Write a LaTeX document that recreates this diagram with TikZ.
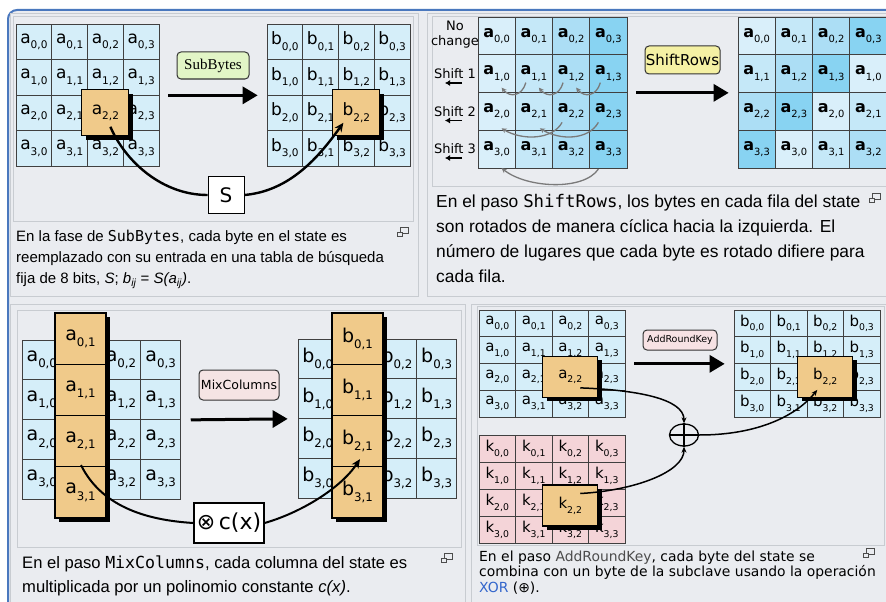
\documentclass[tikz,border=0pt]{standalone}
\usepackage{fontspec}
\setmainfont{Liberation Sans}
\setmonofont{DejaVu Sans Mono}
\newfontfamily\dejavu{DejaVu Sans}
\newfontfamily\timesl{Liberation Serif}
\usetikzlibrary{arrows.meta,calc,shapes.geometric}

\definecolor{framebg}{HTML}{EAECF0}
\definecolor{framebl}{HTML}{4A78BE}
\definecolor{panelln}{HTML}{C8CCD1}
\definecolor{cellblue}{HTML}{D5EEF9}
\definecolor{cellpink}{HTML}{F4D4D8}
\definecolor{hlorange}{HTML}{F0CA8A}
\definecolor{sbgreen}{HTML}{E2F5C6}
\definecolor{sryellow}{HTML}{F5F1A4}
\definecolor{mcpink}{HTML}{F5E4E4}
\definecolor{arkpink}{HTML}{F7E2E4}
\definecolor{shade0}{HTML}{D9EFFA}
\definecolor{shade1}{HTML}{C5E8F8}
\definecolor{shade2}{HTML}{ACDEF5}
\definecolor{shade3}{HTML}{88D3F2}
\definecolor{linkblue}{HTML}{3366CC}
\definecolor{curvegray}{HTML}{7A7A7A}

\makeatletter
\newcommand{\byte}[2]{#1\raisebox{-.32em}{\fontsize{\dimexpr\f@size pt*62/100\relax}{0pt}\selectfont #2}}
\makeatother

% small "enlarge" icon next to each caption
\newcommand{\magicon}[2]{%
  \draw[iconline] (#1+3,#2) rectangle (#1+11,#2+6);
  \draw[iconline, fill=framebg] (#1,#2+5) rectangle (#1+5,#2+9);}

\begin{document}
\begin{tikzpicture}[x=1pt,y=-1pt,
  cell/.style={draw=black!75, line width=0.7pt, inner sep=0pt},
  hl/.style={draw=black, line width=1.2pt, inner sep=0pt, fill=hlorange,
    preaction={fill=black, transform canvas={xshift=4pt, yshift=-4pt}}},
  tag/.style={draw=black!80, line width=1pt, rounded corners=4pt, inner sep=0pt},
  bigarrow/.style={line width=3pt, -{Triangle[length=15pt,width=17pt]}},
  link/.style={line width=2.4pt, -{Stealth[length=9pt,width=8pt]}},
  thinlink/.style={line width=1.5pt, -{Stealth[length=6pt,width=5pt]}},
  shiftarc/.style={curvegray, line width=1.3pt, -{Stealth[length=5pt,width=5pt]}},
  caption/.style={anchor=base west, inner sep=0pt, align=left},
  panel/.style={draw=panelln, fill=framebg, line width=0.8pt},
  iconline/.style={draw=black!70, line width=0.8pt},
]
\useasboundingbox (0,0) rectangle (886,602);
\fill[white] (0,0) rectangle (886,602);
\draw[framebl, line width=2pt, fill=framebg, rounded corners=9pt]
  (8,640) -- (8,10) -- (930,10) -- (930,640) -- cycle;

% panels
\draw[panel] (10,13) rectangle (418,296);
\draw[panel] (13,16) rectangle (413,221);
\draw[panel] (427,13) rectangle (900,296);
\draw[panel] (432,16) rectangle (900,186);
\draw[panel] (10,304) rectangle (465,620);
\draw[panel] (17,310) rectangle (461,547);
\draw[panel] (471,304) rectangle (900,620);
\draw[panel] (477,306) rectangle (884,545);

%% SubBytes
\foreach \r in {0,...,3}
  \foreach \c in {0,...,3} {
    \node[cell, fill=cellblue, minimum width=35.75pt, minimum height=35.5pt,
      font=\dejavu\fontsize{17}{17}\selectfont]
      (sa-\r-\c) at ({16+(\c+.5)*35.75},{24+(\r+.5)*35.5}) {\byte{a}{\r,\c}};
    \node[cell, fill=cellblue, minimum width=35.75pt, minimum height=35.5pt,
      font=\dejavu\fontsize{17}{17}\selectfont]
      (sb-\r-\c) at ({267+(\c+.5)*35.75},{24+(\r+.5)*35.5}) {\byte{b}{\r,\c}};
  }
\node[hl, minimum width=47pt, minimum height=46pt, font=\dejavu\fontsize{17}{17}\selectfont]
  (sa-hl) at (sa-2-2) {\byte{a}{2,2}};
\node[hl, minimum width=47pt, minimum height=46pt, font=\dejavu\fontsize{17}{17}\selectfont]
  (sb-hl) at (sb-2-2) {\byte{b}{2,2}};
\node[tag, fill=sbgreen, minimum width=72pt, minimum height=27pt,
  font=\timesl\fontsize{15}{15}\selectfont] (sb-tag) at (213,65.5) {SubBytes};
\draw[bigarrow] ($(sa-1-3.south east)+(9,0)$) -- ($(sb-1-0.south west)+(-9,0)$);
\node[draw=black, fill=white, line width=0.9pt, minimum width=36pt, minimum height=37pt,
  inner sep=0pt, font=\dejavu\fontsize{20}{20}\selectfont] (sbox) at (226,195) {S};
\draw[line width=2.4pt] ($(sa-hl.center)+(5,14)$) .. controls +(15,35) and +(-45,0) .. (sbox.west);
\draw[link] (sbox.east) .. controls +(45,-4) and +(-25,35) .. ($(sb-hl.center)+(-13,10)$);
\node[caption, font=\fontsize{15}{21}\selectfont] (cap-sb) at (16,283.5)
  {En la fase de \texttt{SubBytes}, cada byte en el state es\\
   reemplazado con su entrada en una tabla de búsqueda\\
   fija de 8 bits, \textit{S}; \textit{b\textsubscript{ij}} = \textit{S(a\textsubscript{ij})}.};
\magicon{397}{227}

%% ShiftRows
\foreach \r in {0,...,3}
  \foreach \c in {0,...,3} {
    \pgfmathtruncatemacro\s{mod(\r+\c,4)}
    \node[cell, fill=shade\c, minimum width=37.25pt, minimum height=37.75pt,
      font=\dejavu\fontsize{16}{16}\selectfont]
      (tra-\r-\c) at ({478+(\c+.5)*37.25},{17+(\r+.5)*37.75}) {\byte{\textbf{a}}{\r,\c}};
    \node[cell, fill=shade\s, minimum width=37.25pt, minimum height=37.75pt,
      font=\dejavu\fontsize{16}{16}\selectfont]
      (trb-\r-\c) at ({738+(\c+.5)*37.25},{17+(\r+.5)*37.75}) {\byte{\textbf{a}}{\r,\s}};
  }
\node[font=\dejavu\fontsize{13}{15}\selectfont, align=center, inner sep=0pt] (nochg) at (455,35) {No\\change};
\foreach \r/\y in {1/74,2/111.5,3/149} {
  \node[font=\dejavu\fontsize{13}{13}\selectfont, inner sep=0pt] (sh\r) at (455,\y) {Shift \r};
  \draw[line width=1.5pt, -{Latex[length=5pt,width=6pt]}] ($(sh\r.center)+(7,9)$) -- ($(sh\r.center)+(-10,9)$);
}
\foreach \c [evaluate=\c as \p using int(\c-1)] in {1,2,3}
  \draw[shiftarc] ($(tra-1-\c.center)+(-8,9)$) .. controls +(-4,14) and +(8,10) .. ($(tra-1-\p.center)+(5,14)$);
\draw[shiftarc] ($(tra-2-2.center)+(-9,11)$) .. controls +(-10,18) and +(20,12) .. ($(tra-2-0.center)+(5,17)$);
\draw[shiftarc] ($(tra-2-3.center)+(-10,11)$) .. controls +(-10,18) and +(20,12) .. ($(tra-2-1.center)+(6,17)$);
\draw[shiftarc] ($(tra-3-3.center)+(-10,20)$) .. controls +(-15,22) and +(25,20) .. ($(tra-3-0.center)+(5,19)$);
\node[tag, fill=sryellow, minimum width=75pt, minimum height=28pt,
  font=\dejavu\fontsize{15}{15}\selectfont] (sr-tag) at (682.5,60) {ShiftRows};
\draw[bigarrow] ($(tra-1-3.south east)+(9,0)$) -- ($(trb-1-0.south west)+(-9,0)$);
\node[caption, font=\fontsize{17.4}{24.7}\selectfont] (cap-sr) at (436,282)
  {En el paso \texttt{ShiftRows}, los bytes en cada fila del state\\
   son rotados de manera cíclica hacia la izquierda. El\\
   número de lugares que cada byte es rotado difiere para\\
   cada fila.};
\magicon{869}{193}

%% MixColumns
\foreach \r in {0,...,3}
  \foreach \c in {0,...,3} {
    \node[cell, fill=cellblue, minimum width=39.6pt, minimum height=39.75pt,
      font=\dejavu\fontsize{19}{19}\selectfont]
      (ma-\r-\c) at ({22+(\c+.5)*39.6},{340+(\r+.5)*39.75}) {\byte{a}{\r,\c}};
    \node[cell, fill=cellblue, minimum width=39.6pt, minimum height=39.75pt,
      font=\dejavu\fontsize{19}{19}\selectfont]
      (mb-\r-\c) at ({298+(\c+.5)*39.6},{339+(\r+.5)*39.75}) {\byte{b}{\r,\c}};
  }
\foreach \r in {0,...,3} {
  \node[hl, minimum width=51pt, minimum height=51.25pt, font=\dejavu\fontsize{19}{19}\selectfont]
    (ma-hl-\r) at ({80.5},{313+(\r+.5)*51.25}) {\byte{a}{\r,1}};
  \node[hl, minimum width=51pt, minimum height=51.25pt, font=\dejavu\fontsize{19}{19}\selectfont]
    (mb-hl-\r) at ({357.5},{313+(\r+.5)*51.25}) {\byte{b}{\r,1}};
}
\node[tag, fill=mcpink, minimum width=80pt, minimum height=30pt,
  font=\dejavu\fontsize{12.5}{12.5}\selectfont] (mc-tag) at (239,385) {MixColumns};
\draw[bigarrow] ($(ma-1-3.south east)+(10,0)$) -- ($(mb-1-0.south west)+(-10,0)$);
\node[draw=black, fill=white, line width=1.2pt, minimum width=70pt, minimum height=40pt,
  inner sep=0pt, font=\dejavu\fontsize{22}{22}\selectfont] (cxbox) at (229,523) {⊗\,c(x)};
\draw[line width=2pt] ($(ma-hl-2.center)+(0.5,24)$) .. controls +(20,40) and +(-50,-3) .. (cxbox.west);
\draw[link, line width=2pt] (cxbox.east) .. controls +(35,-10) and +(-20,30) .. ($(mb-hl-2.center)+(2.5,18)$);
\node[caption, font=\fontsize{16.6}{24}\selectfont] (cap-mc) at (22,592)
  {En el paso \texttt{MixColumns}, cada columna del state es\\
   multiplicada por un polinomio constante \textit{c(x)}.};
\magicon{441}{553}

%% AddRoundKey
\foreach \r in {0,...,3}
  \foreach \c in {0,...,3} {
    \node[cell, fill=cellblue, minimum width=36.5pt, minimum height=26.75pt,
      font=\dejavu\fontsize{15}{15}\selectfont]
      (ra-\r-\c) at ({479+(\c+.5)*36.5},{310+(\r+.5)*26.75}) {\byte{a}{\r,\c}};
    \node[cell, fill=cellblue, minimum width=36.5pt, minimum height=26.75pt,
      font=\dejavu\fontsize{15}{15}\selectfont]
      (rb-\r-\c) at ({734+(\c+.5)*36.5},{310+(\r+.5)*26.75}) {\byte{b}{\r,\c}};
    \node[cell, fill=cellpink, minimum width=36.5pt, minimum height=27pt,
      font=\dejavu\fontsize{15}{15}\selectfont]
      (rk-\r-\c) at ({479+(\c+.5)*36.5},{435+(\r+.5)*27}) {\byte{k}{\r,\c}};
  }
\node[hl, minimum width=55pt, minimum height=41pt, font=\dejavu\fontsize{15}{15}\selectfont]
  (ra-hl) at (ra-2-2) {\byte{a}{2,2}};
\node[hl, minimum width=55pt, minimum height=41pt, font=\dejavu\fontsize{15}{15}\selectfont]
  (rb-hl) at (rb-2-2) {\byte{b}{2,2}};
\node[hl, minimum width=55pt, minimum height=41pt, font=\dejavu\fontsize{15}{15}\selectfont]
  (rk-hl) at ($(rk-2-2)+(0,3)$) {\byte{k}{2,2}};
\node[tag, fill=arkpink, minimum width=74pt, minimum height=20pt,
  font=\dejavu\fontsize{9.5}{9.5}\selectfont] (ark-tag) at (680,340) {AddRoundKey};
\draw[bigarrow] ($(ra-1-3.south east)+(9,0)$) -- ($(rb-1-0.south west)+(-9,0)$);
\node[draw=black, ellipse, line width=1.3pt, minimum width=29pt, minimum height=22pt, inner sep=0pt]
  (xor) at (684,435) {};
\draw[line width=1.3pt] (xor.north) -- (xor.south) (xor.west) -- (xor.east);
\draw[thinlink] ($(ra-hl.center)+(10,11)$) .. controls +(55,2) and +(0,-25) .. (xor.north);
\draw[thinlink] ($(rk-2-2.center)+(10,-9)$) .. controls +(55,-3) and +(0,25) .. (xor.south);
\draw[thinlink] (xor.east) .. controls +(60,0) and +(-20,25) .. ($(rb-hl.center)+(-8,13)$);
\node[caption, font=\dejavu\fontsize{13.9}{15.3}\selectfont] (cap-ark) at (479,592)
  {En el paso {\color{black!70}AddRoundKey}, cada byte del state se\\
   combina con un byte de la subclave usando la operación\\
   {\color{linkblue}XOR} (⊕).};
\magicon{863}{548}
\end{tikzpicture}
\end{document}
